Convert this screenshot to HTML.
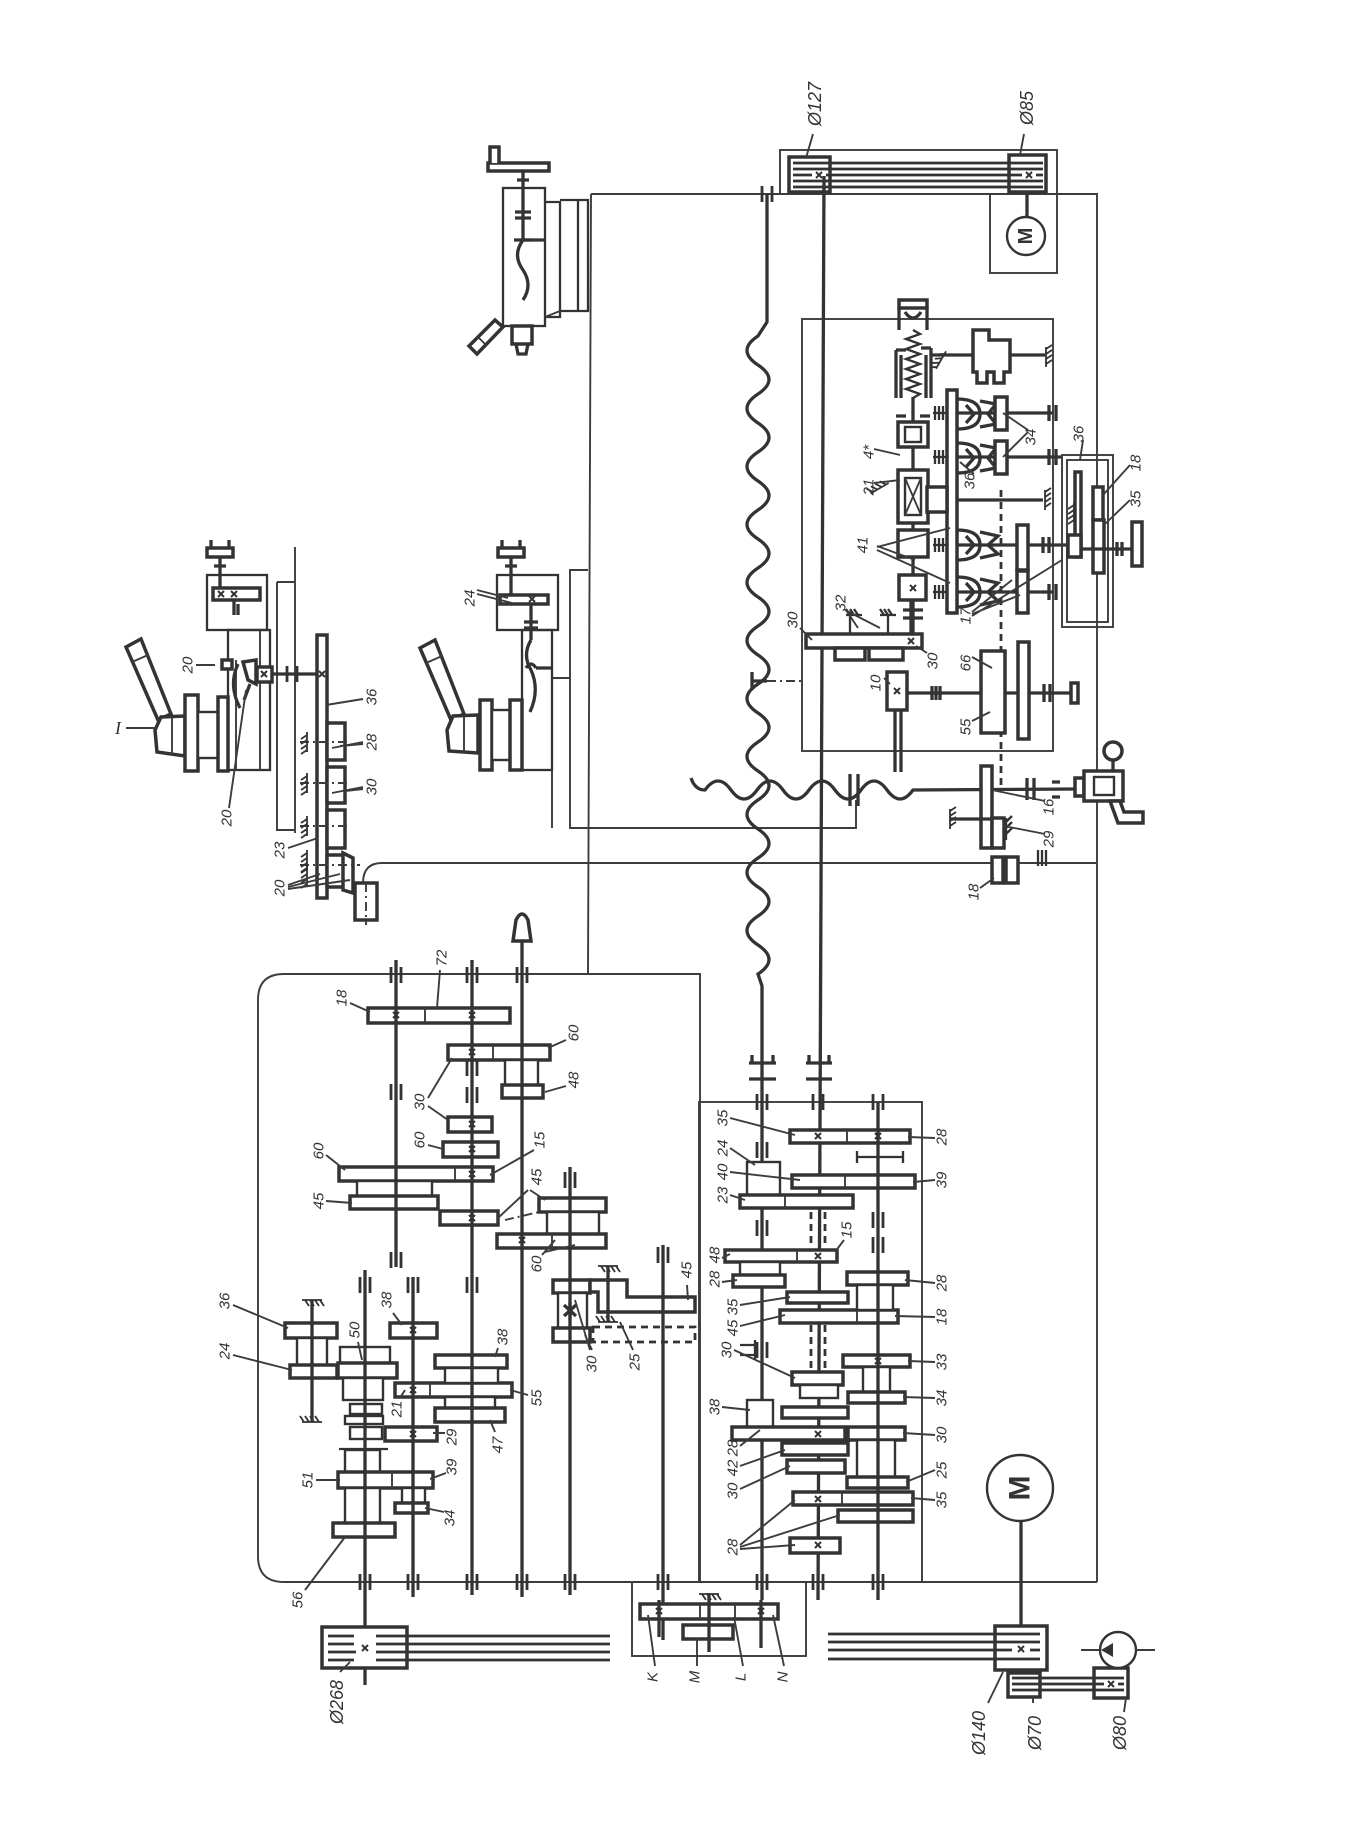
<!DOCTYPE html>
<html><head><meta charset="utf-8"><style>
html,body{margin:0;padding:0;background:#fff}
svg{display:block}
.k{fill:none;stroke:#333;stroke-width:3.3}
.g{fill:#fff;stroke:#333;stroke-width:3.5}
.h{fill:#fff;stroke:#333;stroke-width:2.4}
.t{fill:none;stroke:#3c3c3c;stroke-width:1.9}
.w{fill:none;stroke:#333;stroke-width:2.3}
.d{fill:none;stroke:#3c3c3c;stroke-width:1.9;stroke-dasharray:9 4 2 4}
.ds{fill:none;stroke:#333;stroke-width:2.8;stroke-dasharray:7 5}
text{font-family:"Liberation Sans Narrow","Liberation Sans",sans-serif;font-style:italic;fill:#333;text-anchor:middle;dominant-baseline:central}
.l{font-size:15px}
.L{font-size:18px}
</style></head><body>
<svg width="1371" height="1839" viewBox="0 0 1371 1839" xmlns="http://www.w3.org/2000/svg">
<defs>
<g id="b"><path d="M-5,-8V8M5,-8V8" stroke="#333" stroke-width="2.8" fill="none"/></g>
<g id="bh"><path d="M-8,-5H8M-8,5H8" stroke="#333" stroke-width="2.8" fill="none"/></g>
<g id="x"><path d="M-3,-3L3,3M3,-3L-3,3" stroke="#333" stroke-width="2" fill="none"/></g>
<g id="gr"><path d="M-10,0H10M-8,0l-4,-6M-3,0l-4,-6M2,0l-4,-6M7,0l-4,-6" stroke="#333" stroke-width="1.8" fill="none"/></g>
</defs>
<rect width="1371" height="1839" fill="#fff"/>

<!-- ============ FRAME ============ -->
<path class="t" d="M591,194 L588,974"/>
<path class="t" d="M591,194 H1097 V1582"/>
<path class="t" d="M284,974 H700 V1582 M258,1000 V1556 Q258,1582 284,1582 H1097 M258,1000 Q258,974 284,974"/>
<rect class="t" x="699" y="1102" width="223" height="480"/>
<rect class="t" x="632" y="1582" width="174" height="74"/>
<rect class="t" x="802" y="319" width="251" height="432"/>
<rect class="t" x="780" y="150" width="277" height="44"/>
<rect class="t" x="990" y="194" width="67" height="79"/>
<path class="t" d="M588,570 H570 V828 H856 V800"/>
<path class="t" d="M552,678 H570 M552,678 V828"/>
<path class="t" d="M363,883 Q363,863 382,863 H1097"/>

<!-- ============ TOP BELT ============ -->
<rect class="g" x="789" y="157" width="41" height="35"/>
<rect class="g" x="1009" y="155" width="37" height="37"/>
<path stroke="#333" stroke-width="2.8" fill="none" d="M793,163H1043M793,169H1043M793,175H812M826,175H1022M1036,175H1043M793,181H1043M793,187H1043"/>
<use href="#x" x="819" y="175"/>
<use href="#x" x="1029" y="175"/>
<circle class="h" cx="1026" cy="236" r="19"/>
<text x="1026" y="236" transform="rotate(-90 1026 236)" style="font-size:20px;font-weight:bold;font-style:normal;font-family:'Liberation Sans',sans-serif">M</text>
<path class="k" d="M1027,192 V217"/>
<text class="L" transform="translate(815,104) rotate(-90)">Ø127</text>
<text class="L" transform="translate(1027,108) rotate(-90)">Ø85</text>
<path class="t" d="M813,134 L806,158 M1024,134 L1020,155"/>

<!-- ============ LEAD SCREW / FEED SHAFT ============ -->
<path class="k" d="M767,194 L767,322 L758,336 Q736,350.5 758,365 T758,394 T758,423 T758,452 T758,481 T758,510 T758,539 T758,568 T758,597 T758,626 T758,655 T758,684 T758,713 T758,742 T758,771 T758,800 T758,829 T758,858 T758,887 T758,916 T758,945 T758,974 L762,986 L762,1600"/>
<path class="k" d="M824,176 L818,1600"/>
<use href="#b" x="767" y="194"/>
<path class="k" d="M749,1063 H776 M749,1079 H776 M752,1055 V1063 M773,1055 V1063"/>
<path class="k" d="M806,1063 H832 M806,1079 H832 M809,1055 V1063 M829,1055 V1063"/>
<!-- horizontal wavy screw -->
<path class="k" d="M691,778 Q695,790 705,790 Q718,772 731,790 T757,790 T783,790 T809,790 T835,790 T861,790 T887,790 T913,790 L1075,789"/>
<path class="k" d="M850,774 V806 M858,774 V806"/>
<path class="d" d="M767,681 H802"/>
<path class="k" d="M752,672 V690 M752,681 H767"/>

<!-- ============ APRON ============ -->
<rect class="g" x="899" y="300" width="28" height="8"/>
<path class="k" d="M899,308 V330 M927,308 V330 M905,312 Q913,324 921,312"/>
<path class="w" d="M913,330 l7,4 l-14,5 l14,5 l-14,5 l14,5 l-14,5 l14,5 l-14,5 l14,5 l-14,5 l14,5 l-14,5 l14,5 l-7,4"/>
<path class="k" d="M896,350 V398 M901,355 V398 M926,355 V398 M931,348 V398 M896,350 H906 M921,348 H931"/>
<use href="#gr" transform="translate(941,360) rotate(-60)"/>
<path class="k" d="M932,355 H1045"/>
<path class="g" d="M973,330 H989 V340 H1010 V372 H1004 V383 H994 V372 H987 V383 H977 V372 H973 Z"/>
<use href="#gr" transform="translate(1046,357) rotate(90)"/>
<path class="k" d="M913,397 V640"/>
<path class="k" d="M896,416 H906 M920,416 H930"/>
<rect class="g" x="898" y="422" width="30" height="25"/>
<rect class="h" x="905" y="427" width="16" height="15"/>
<rect class="g" x="898" y="470" width="30" height="53"/>
<rect class="h" x="905" y="478" width="16" height="37"/>
<path class="t" d="M905,478 L921,515 M921,478 L905,515"/>
<use href="#gr" transform="translate(880,488) rotate(-30)"/>
<rect class="g" x="898" y="530" width="30" height="27"/>
<rect class="g" x="899" y="575" width="27" height="25"/>
<use href="#x" x="913" y="588"/>
<path class="k" d="M903,610 H923 M903,618 H923"/>
<rect class="g" x="947" y="390" width="10" height="223"/>
<rect class="g" x="927" y="487" width="20" height="25"/>
<path class="k" d="M957,500 H1043"/>
<use href="#gr" transform="translate(1045,500) rotate(90)"/>
<path class="k" d="M957,413 H1053 M957,457 H1062 M957,545 H1068 M957,592 H1053"/>
<path class="w" d="M935,406 V420 M939,406 V420 M943,406 V420 M933,413 H947 M935,450 V464 M939,450 V464 M943,450 V464 M933,457 H947 M935,538 V552 M939,538 V552 M943,538 V552 M933,545 H947 M935,585 V599 M939,585 V599 M943,585 V599 M933,592 H947"/>
<path class="k" d="M957,399 Q980,399 980,414 Q980,429 957,429 M966,405 L974,414 L966,423"/>
<path class="k" d="M980,401 L996,404 L988,414 L996,424 L980,427"/>
<rect class="g" x="995" y="397" width="12" height="33"/>
<path class="k" d="M957,443 Q980,443 980,458 Q980,473 957,473 M966,449 L974,458 L966,467"/>
<path class="k" d="M980,445 L996,448 L988,458 L996,468 L980,471"/>
<rect class="g" x="995" y="441" width="12" height="33"/>
<path class="k" d="M957,530 Q980,530 980,545 Q980,560 957,560 M966,536 L974,545 L966,554"/>
<path class="k" d="M980,532 L998,536 L988,545 L998,554 L980,558"/>
<rect class="g" x="1017" y="525" width="11" height="45"/>
<path class="k" d="M957,577 Q980,577 980,592 Q980,607 957,607 M966,583 L974,592 L966,601"/>
<path class="k" d="M980,579 L998,583 L988,592 L998,601 L980,605"/>
<rect class="g" x="1017" y="571" width="11" height="42"/>
<path class="k" d="M1049,405 V421 M1056,405 V421 M1049,449 V465 M1056,449 V465 M1049,584 V600 M1056,584 V600 M1043,537 V553 M1049,537 V553"/>
<path class="ds" d="M1001,490 V786"/>
<!-- small side box -->
<rect class="t" x="1062" y="455" width="51" height="172"/>
<rect class="t" x="1067" y="460" width="41" height="162"/>
<rect class="g" x="1075" y="472" width="6" height="85"/>
<rect class="g" x="1093" y="487" width="10" height="33"/>
<rect class="g" x="1093" y="520" width="11" height="53"/>
<rect class="g" x="1068" y="535" width="13" height="22"/>
<use href="#gr" transform="translate(1074,512) rotate(-90)"/>
<path class="k" d="M1081,549 H1132"/>
<rect class="g" x="1132" y="522" width="10" height="44"/>
<path class="k" d="M1117,542 V556 M1122,542 V556"/>
<!-- lower apron -->
<rect class="g" x="806" y="634" width="116" height="14"/>
<rect class="g" x="835" y="648" width="30" height="12"/>
<rect class="g" x="869" y="648" width="34" height="12"/>
<use href="#x" x="911" y="641"/>
<path class="w" d="M850,615 l-4,-6 M854,615 l-4,-6 M858,615 l-4,-6 M846,615 H862 M884,615 l-4,-6 M888,615 l-4,-6 M892,615 l-4,-6 M880,615 H896 M850,615 V634 M888,615 V634"/>
<path class="k" d="M911,600 V634"/>
<rect class="g" x="887" y="672" width="20" height="38"/>
<use href="#x" x="897" y="691"/>
<path class="k" d="M895,710 V772 M901,710 V772"/>
<path class="k" d="M907,693 H1071"/>
<rect class="g" x="1071" y="683" width="7" height="20"/>
<path class="k" d="M1044,684 V702 M1050,684 V702 M932,686 V700 M936,686 V700 M940,686 V700"/>
<rect class="g" x="981" y="651" width="24" height="82"/>
<rect class="g" x="1018" y="642" width="11" height="97"/>
<!-- below apron -->
<rect class="g" x="981" y="766" width="11" height="82"/>
<path class="k" d="M1027,778 V800 M1034,778 V800 M1052,782 H1060 M1052,797 H1060"/>
<rect class="g" x="1075" y="778" width="9" height="18"/>
<rect class="g" x="1084" y="771" width="39" height="30"/>
<rect class="h" x="1094" y="777" width="20" height="18"/>
<circle class="g" cx="1113" cy="751" r="9"/>
<path class="k" d="M1113,760 V771"/>
<path class="g" d="M1110,801 L1120,801 L1124,812 L1143,812 L1143,823 L1118,823 Z"/>
<path class="k" d="M950,819 H992"/>
<use href="#gr" transform="translate(950,819) rotate(90)"/>
<rect class="g" x="992" y="818" width="12" height="30"/>
<path class="w" d="M1006,822 l6,-6 M1006,828 l6,-6 M1006,834 l6,-6 M1006,818 V840"/>
<rect class="g" x="992" y="857" width="11" height="26"/>
<rect class="g" x="1006" y="857" width="12" height="26"/>
<path class="w" d="M1038,850 V866 M1042,850 V866 M1046,850 V866"/>
<!-- apron labels -->
<text class="l" transform="translate(793,620) rotate(-90)">30</text>
<text class="l" transform="translate(841,603) rotate(-90)">32</text>
<text class="l" transform="translate(933,661) rotate(-90)">30</text>
<text class="l" transform="translate(876,683) rotate(-90)">10</text>
<text class="l" transform="translate(966,663) rotate(-90)">66</text>
<text class="l" transform="translate(966,727) rotate(-90)">55</text>
<text class="l" transform="translate(863,545) rotate(-90)">41</text>
<text class="l" transform="translate(966,616) rotate(-90)">17</text>
<text class="l" transform="translate(869,487) rotate(-90)">21</text>
<text class="l" transform="translate(869,452) rotate(-90)">4*</text>
<text class="l" transform="translate(970,481) rotate(-90)">36</text>
<text class="l" transform="translate(1031,437) rotate(-90)">34</text>
<text class="l" transform="translate(1079,434) rotate(-90)">36</text>
<text class="l" transform="translate(1136,463) rotate(-90)">18</text>
<text class="l" transform="translate(1136,499) rotate(-90)">35</text>
<text class="l" transform="translate(1049,807) rotate(-90)">16</text>
<text class="l" transform="translate(1049,839) rotate(-90)">29</text>
<text class="l" transform="translate(974,892) rotate(-90)">18</text>
<path class="t" d="M800,628 L812,640 M846,610 L858,628 M845,610 L880,628 M927,653 L916,646 M884,678 L890,684 M972,657 L992,668 M972,721 L990,712 M877,547 L950,528 M877,550 L950,583 M877,546 L915,560 M972,612 L1012,580 M972,614 L1020,595 M972,616 L1062,560 M874,483 L900,480 M874,449 L900,455 M974,474 L960,462 M1028,430 L1003,413 M1028,432 L1003,457 M1083,440 L1080,460 M1130,465 L1103,495 M1130,500 L1104,525 M1045,801 L992,790 M1045,834 L1004,826 M980,888 L994,878"/>

<!-- ============ UPPER TOOL (drill head) ============ -->
<rect class="g" x="488" y="163" width="61" height="8"/>
<path class="g" d="M490,163 V147 H499 V163"/>
<rect class="w" x="503" y="188" width="42" height="138"/>
<path class="k" d="M523,171 V240"/>
<path class="k" d="M517,180 H529 M515,212 H531 M515,218 H531 M514,240 H532 M523,240 Q512,255 523,270 Q533,285 523,300"/>
<path class="k" d="M523,240 H545"/>
<path class="w" d="M545,202 H560 V317 H545 M560,200 H588 V311 H560 M578,200 V311"/>
<path class="t" d="M545,317 L560,311"/>
<rect class="g" x="512" y="326" width="20" height="18"/>
<path class="k" d="M516,344 L518,354 H526 L528,344"/>
<path class="g" d="M469,346 L495,320 L503,327 L477,354 Z"/>
<path class="t" d="M478,337 L486,345"/>

<!-- ============ CARRIAGE 1 ============ -->
<path class="g" d="M126,647 L141,639 L171,714 L158,720 Z"/>
<path class="t" d="M132,662 L148,655"/>
<path class="g" d="M185,716 L161,717 L155,730 L157,752 L185,756 Z"/>
<path class="t" d="M172,717 V755"/>
<rect class="g" x="185" y="695" width="13" height="76"/>
<rect class="h" x="198" y="712" width="20" height="46"/>
<rect class="g" x="218" y="697" width="10" height="74"/>
<rect class="w" x="228" y="630" width="42" height="140"/>
<path class="t" d="M236,660 V770 M260,630 V770"/>
<rect class="w" x="207" y="575" width="60" height="55"/>
<rect class="g" x="213" y="588" width="47" height="12"/>
<use href="#x" x="221" y="594"/><use href="#x" x="234" y="594"/>
<path class="k" d="M234,600 V615 M238,604 V615"/>
<rect class="g" x="207" y="548" width="26" height="9"/>
<path class="k" d="M211,548 V540 M229,548 V540 M220,557 V588 M214,566 H226"/>
<path class="t" d="M277,582 V830 H295 M277,582 H295 M295,547 V833"/>
<rect class="g" x="222" y="660" width="10" height="9"/>
<path class="g" d="M243,662 L256,660 L256,684 L248,680 Z"/>
<rect class="g" x="257" y="667" width="15" height="15"/>
<use href="#x" x="264" y="674"/>
<path class="k" d="M238,664 Q228,685 240,708 M250,684 L244,700"/>
<path class="k" d="M272,674 H322"/>
<use href="#b" x="292" y="674"/>
<rect class="g" x="317" y="635" width="10" height="263"/>
<use href="#x" x="322" y="674"/>
<rect class="g" x="327" y="723" width="18" height="37"/>
<rect class="g" x="327" y="767" width="18" height="36"/>
<rect class="g" x="327" y="810" width="18" height="38"/>
<rect class="g" x="327" y="855" width="18" height="32"/>
<path class="g" d="M343,853 L353,858 L353,893 L343,890 Z"/>
<path class="d" d="M300,742 H350 M300,783 H350 M300,826 H350 M300,865 H360"/>
<use href="#gr" transform="translate(307,742) rotate(-90)"/>
<use href="#gr" transform="translate(307,783) rotate(-90)"/>
<use href="#gr" transform="translate(307,826) rotate(-90)"/>
<use href="#gr" transform="translate(307,860) rotate(-90)"/>
<use href="#gr" transform="translate(307,876) rotate(-90)"/>
<rect class="g" x="355" y="883" width="22" height="37"/>
<path class="d" d="M366,883 V925"/>
<text x="118" y="728" style="font-size:18px;font-family:'Liberation Serif',serif">I</text>
<text class="l" transform="translate(188,665) rotate(-90)">20</text>
<text class="l" transform="translate(227,818) rotate(-90)">20</text>
<text class="l" transform="translate(372,697) rotate(-90)">36</text>
<text class="l" transform="translate(372,742) rotate(-90)">28</text>
<text class="l" transform="translate(372,787) rotate(-90)">30</text>
<text class="l" transform="translate(280,850) rotate(-90)">23</text>
<text class="l" transform="translate(280,888) rotate(-90)">20</text>
<path class="t" d="M126,728 H156 M196,665 H215 M229,808 L246,690 M363,699 L326,705 M363,742 L332,748 M363,744 L340,746 M363,787 L332,793 M363,789 L345,791 M288,848 L318,838 M288,885 L320,874 M288,887 L340,874 M288,889 L350,880"/>

<!-- ============ CARRIAGE 2 ============ -->
<path class="g" d="M420,648 L435,640 L464,714 L451,720 Z"/>
<path class="t" d="M426,663 L442,656"/>
<path class="g" d="M478,715 L453,716 L447,730 L449,751 L478,753 Z"/>
<path class="t" d="M464,716 V752"/>
<rect class="g" x="480" y="700" width="12" height="70"/>
<rect class="h" x="492" y="710" width="18" height="50"/>
<rect class="g" x="510" y="700" width="12" height="70"/>
<rect class="w" x="522" y="630" width="30" height="140"/>
<rect class="w" x="497" y="575" width="61" height="55"/>
<rect class="g" x="500" y="595" width="48" height="9"/>
<use href="#x" x="532" y="599"/>
<rect class="g" x="498" y="548" width="26" height="9"/>
<path class="k" d="M502,548 V540 M520,548 V540 M511,557 V595 M505,566 H517"/>
<path class="k" d="M531,604 V640 M524,622 H538 M524,628 H538 M531,640 Q522,655 531,670 Q540,690 530,712 M526,668 Q531,660 536,668 M536,668 H552"/>
<text class="l" transform="translate(470,598) rotate(-90)">24</text>
<path class="t" d="M477,590 L508,598 M477,594 L512,603"/>

<!-- ============ HEADSTOCK ============ -->
<path class="g" d="M513,941 L516,920 Q522,908 528,920 L531,941 Z"/>
<!-- gears -->
<rect class="g" x="368" y="1008" width="142" height="15"/>
<path class="t" d="M425,1008 V1023"/>
<rect class="g" x="448" y="1045" width="102" height="15"/>
<path class="t" d="M493,1045 V1060"/>
<rect class="h" x="505" y="1060" width="33" height="26"/>
<rect class="g" x="502" y="1085" width="41" height="13"/>
<rect class="g" x="448" y="1117" width="44" height="15"/>
<rect class="g" x="443" y="1142" width="55" height="15"/>
<rect class="g" x="339" y="1167" width="154" height="14"/>
<path class="t" d="M455,1167 V1181"/>
<rect class="h" x="357" y="1181" width="75" height="15"/>
<rect class="g" x="350" y="1196" width="88" height="13"/>
<rect class="g" x="440" y="1211" width="58" height="14"/>
<rect class="g" x="539" y="1198" width="67" height="14"/>
<rect class="h" x="547" y="1212" width="52" height="22"/>
<rect class="g" x="497" y="1234" width="109" height="14"/>
<path class="t" d="M552,1234 V1248"/>
<path class="d" d="M505,1220 L539,1212"/>
<!-- tumbler -->
<rect class="g" x="553" y="1280" width="37" height="13"/>
<rect class="h" x="558" y="1293" width="29" height="35"/>
<rect class="g" x="553" y="1328" width="37" height="14"/>
<path class="k" d="M564,1305 L576,1316 M576,1305 L564,1316 M570,1302 V1320"/>
<path class="g" d="M590,1280 H627 V1297 H695 V1312 H598 V1292 H590 Z"/>
<rect class="ds" x="593" y="1327" width="102" height="15"/>
<use href="#gr" transform="translate(608,1266) rotate(180)"/>
<use href="#gr" transform="translate(608,1322)"/>
<path class="k" d="M608,1266 V1322"/>
<!-- lower cluster -->
<rect class="g" x="285" y="1323" width="52" height="15"/>
<rect class="h" x="297" y="1338" width="30" height="27"/>
<rect class="g" x="290" y="1365" width="47" height="13"/>
<path class="k" d="M312,1300 V1422"/>
<use href="#gr" transform="translate(312,1300) rotate(180)"/>
<use href="#gr" transform="translate(312,1422)"/>
<rect class="h" x="340" y="1347" width="50" height="16"/>
<rect class="g" x="338" y="1363" width="59" height="15"/>
<rect class="h" x="343" y="1378" width="40" height="22"/>
<rect class="h" x="350" y="1404" width="32" height="10"/>
<rect class="h" x="345" y="1416" width="38" height="8"/>
<rect class="h" x="350" y="1427" width="32" height="12"/>
<path class="w" d="M339,1449 H388"/>
<rect class="h" x="345" y="1450" width="35" height="22"/>
<rect class="g" x="338" y="1472" width="95" height="16"/>
<path class="t" d="M392,1472 V1488"/>
<rect class="h" x="345" y="1488" width="35" height="35"/>
<rect class="g" x="333" y="1523" width="62" height="14"/>
<rect class="g" x="390" y="1323" width="47" height="15"/>
<rect class="g" x="395" y="1383" width="117" height="14"/>
<path class="t" d="M430,1383 V1397"/>
<rect class="g" x="435" y="1355" width="72" height="13"/>
<rect class="h" x="445" y="1368" width="53" height="15"/>
<rect class="h" x="445" y="1397" width="50" height="11"/>
<rect class="g" x="435" y="1408" width="70" height="14"/>
<rect class="g" x="385" y="1427" width="52" height="14"/>
<rect class="h" x="402" y="1488" width="23" height="15"/>
<rect class="g" x="395" y="1503" width="33" height="10"/>
<!-- shafts -->
<path class="k" d="M396,960 V1267 M472,960 V1595 M522,941 V1597 M570,1167 V1595 M663,1245 V1640 M365,1270 V1685 M413,1277 V1597"/>
<use href="#x" x="396" y="1015"/><use href="#x" x="472" y="1015"/>
<use href="#x" x="472" y="1052"/><use href="#x" x="472" y="1124"/>
<use href="#x" x="472" y="1149"/><use href="#x" x="472" y="1174"/>
<use href="#x" x="472" y="1218"/><use href="#x" x="522" y="1240"/>
<use href="#x" x="413" y="1330"/><use href="#x" x="413" y="1390"/>
<use href="#x" x="413" y="1434"/>
<use href="#b" x="396" y="975"/><use href="#b" x="472" y="975"/><use href="#b" x="522" y="975"/>
<use href="#b" x="396" y="1092"/><use href="#b" x="396" y="1260"/><use href="#b" x="472" y="1068"/>
<use href="#b" x="472" y="1095"/><use href="#b" x="472" y="1285"/><use href="#b" x="413" y="1285"/>
<use href="#b" x="365" y="1285"/><use href="#b" x="663" y="1255"/><use href="#b" x="570" y="1180"/>
<use href="#b" x="365" y="1582"/><use href="#b" x="413" y="1582"/><use href="#b" x="472" y="1582"/>
<use href="#b" x="522" y="1582"/><use href="#b" x="570" y="1582"/><use href="#b" x="663" y="1582"/>
<!-- headstock labels -->
<text class="l" transform="translate(342,998) rotate(-90)">18</text>
<text class="l" transform="translate(442,958) rotate(-90)">72</text>
<text class="l" transform="translate(574,1033) rotate(-90)">60</text>
<text class="l" transform="translate(574,1080) rotate(-90)">48</text>
<text class="l" transform="translate(420,1102) rotate(-90)">30</text>
<text class="l" transform="translate(420,1140) rotate(-90)">60</text>
<text class="l" transform="translate(540,1140) rotate(-90)">15</text>
<text class="l" transform="translate(319,1151) rotate(-90)">60</text>
<text class="l" transform="translate(319,1201) rotate(-90)">45</text>
<text class="l" transform="translate(537,1177) rotate(-90)">45</text>
<text class="l" transform="translate(537,1264) rotate(-90)">60</text>
<text class="l" transform="translate(225,1301) rotate(-90)">36</text>
<text class="l" transform="translate(225,1351) rotate(-90)">24</text>
<text class="l" transform="translate(355,1330) rotate(-90)">50</text>
<text class="l" transform="translate(387,1300) rotate(-90)">38</text>
<text class="l" transform="translate(503,1337) rotate(-90)">38</text>
<text class="l" transform="translate(537,1398) rotate(-90)">55</text>
<text class="l" transform="translate(397,1409) rotate(-90)">21</text>
<text class="l" transform="translate(452,1437) rotate(-90)">29</text>
<text class="l" transform="translate(498,1445) rotate(-90)">47</text>
<text class="l" transform="translate(452,1467) rotate(-90)">39</text>
<text class="l" transform="translate(308,1480) rotate(-90)">51</text>
<text class="l" transform="translate(450,1518) rotate(-90)">34</text>
<text class="l" transform="translate(298,1600) rotate(-90)">56</text>
<text class="l" transform="translate(592,1364) rotate(-90)">30</text>
<text class="l" transform="translate(635,1362) rotate(-90)">25</text>
<text class="l" transform="translate(687,1270) rotate(-90)">45</text>
<path class="t" d="M350,1003 L370,1012 M440,970 L437,1008 M566,1040 L548,1048 M566,1086 L545,1092 M428,1098 L452,1058 M428,1106 L448,1120 M428,1145 L443,1149 M534,1150 L490,1175 M326,1155 L345,1170 M326,1201 L352,1203 M528,1190 L498,1218 M530,1190 L545,1200 M545,1252 L575,1245 M542,1255 L555,1240 M233,1305 L288,1328 M233,1355 L292,1370 M358,1342 L362,1360 M393,1313 L402,1325 M498,1348 L495,1357 M528,1395 L510,1390 M400,1398 L405,1390 M445,1433 L433,1433 M495,1432 L490,1420 M446,1473 L430,1479 M316,1480 L340,1480 M444,1512 L425,1508 M305,1590 L345,1537 M590,1350 L575,1300 M592,1350 L585,1335 M633,1350 L620,1322 M687,1285 L688,1300"/>

<!-- ============ FEED BOX ============ -->
<rect class="g" x="790" y="1130" width="120" height="13"/>
<path class="t" d="M847,1130 V1143"/>
<path class="w" d="M857,1157 H903 M857,1151 V1163 M903,1151 V1163"/>
<rect class="g" x="792" y="1175" width="123" height="13"/>
<path class="t" d="M845,1175 V1188"/>
<rect class="h" x="747" y="1162" width="33" height="33"/>
<rect class="g" x="740" y="1195" width="113" height="13"/>
<path class="t" d="M785,1195 V1208"/>
<rect class="g" x="725" y="1250" width="112" height="12"/>
<path class="t" d="M797,1250 V1262"/>
<rect class="h" x="740" y="1262" width="40" height="13"/>
<rect class="g" x="733" y="1275" width="52" height="12"/>
<rect class="g" x="787" y="1292" width="61" height="11"/>
<rect class="g" x="780" y="1310" width="118" height="13"/>
<path class="t" d="M857,1310 V1323"/>
<rect class="g" x="847" y="1272" width="61" height="13"/>
<rect class="h" x="857" y="1285" width="36" height="25"/>
<rect class="g" x="843" y="1355" width="67" height="12"/>
<rect class="h" x="863" y="1367" width="27" height="25"/>
<rect class="g" x="848" y="1392" width="57" height="11"/>
<rect class="g" x="848" y="1427" width="57" height="13"/>
<rect class="h" x="857" y="1440" width="38" height="37"/>
<rect class="g" x="847" y="1477" width="61" height="11"/>
<rect class="g" x="793" y="1492" width="120" height="13"/>
<path class="t" d="M842,1492 V1505"/>
<rect class="g" x="838" y="1510" width="75" height="12"/>
<rect class="g" x="790" y="1538" width="50" height="15"/>
<rect class="g" x="792" y="1372" width="51" height="13"/>
<rect class="h" x="800" y="1385" width="38" height="13"/>
<rect class="g" x="782" y="1407" width="66" height="11"/>
<rect class="h" x="747" y="1400" width="26" height="27"/>
<rect class="g" x="732" y="1427" width="113" height="13"/>
<rect class="g" x="782" y="1443" width="66" height="12"/>
<rect class="g" x="787" y="1460" width="58" height="13"/>
<path class="k" d="M878,1102 V1600"/>
<path class="ds" d="M811,1212 V1245 M825,1212 V1245 M811,1325 V1370 M825,1325 V1370"/>
<use href="#x" x="818" y="1136"/><use href="#x" x="878" y="1136"/>
<use href="#x" x="818" y="1256"/><use href="#x" x="878" y="1361"/>
<use href="#x" x="818" y="1434"/><use href="#x" x="818" y="1499"/>
<use href="#x" x="818" y="1545"/>
<use href="#b" x="762" y="1102"/><use href="#b" x="818" y="1102"/><use href="#b" x="878" y="1102"/>
<use href="#b" x="762" y="1582"/><use href="#b" x="818" y="1582"/><use href="#b" x="878" y="1582"/>
<use href="#b" x="762" y="1150"/><use href="#b" x="762" y="1228"/><use href="#b" x="762" y="1350"/>
<use href="#b" x="878" y="1220"/><use href="#b" x="878" y="1245"/>
<path class="w" d="M740,1355 H755 M740,1345 H755 M755,1340 V1360"/>
<!-- feed box labels -->
<text class="l" transform="translate(723,1118) rotate(-90)">35</text>
<text class="l" transform="translate(723,1148) rotate(-90)">24</text>
<text class="l" transform="translate(723,1172) rotate(-90)">40</text>
<text class="l" transform="translate(723,1195) rotate(-90)">23</text>
<text class="l" transform="translate(715,1255) rotate(-90)">48</text>
<text class="l" transform="translate(715,1279) rotate(-90)">28</text>
<text class="l" transform="translate(733,1307) rotate(-90)">35</text>
<text class="l" transform="translate(733,1328) rotate(-90)">45</text>
<text class="l" transform="translate(727,1350) rotate(-90)">30</text>
<text class="l" transform="translate(715,1407) rotate(-90)">38</text>
<text class="l" transform="translate(733,1448) rotate(-90)">28</text>
<text class="l" transform="translate(733,1468) rotate(-90)">42</text>
<text class="l" transform="translate(733,1491) rotate(-90)">30</text>
<text class="l" transform="translate(733,1547) rotate(-90)">28</text>
<text class="l" transform="translate(847,1230) rotate(-90)">15</text>
<text class="l" transform="translate(942,1137) rotate(-90)">28</text>
<text class="l" transform="translate(942,1180) rotate(-90)">39</text>
<text class="l" transform="translate(942,1283) rotate(-90)">28</text>
<text class="l" transform="translate(942,1317) rotate(-90)">18</text>
<text class="l" transform="translate(942,1362) rotate(-90)">33</text>
<text class="l" transform="translate(942,1398) rotate(-90)">34</text>
<text class="l" transform="translate(942,1435) rotate(-90)">30</text>
<text class="l" transform="translate(942,1470) rotate(-90)">25</text>
<text class="l" transform="translate(942,1500) rotate(-90)">35</text>
<path class="t" d="M730,1118 L795,1135 M730,1148 L755,1165 M730,1172 L800,1180 M730,1195 L745,1200 M722,1258 L730,1254 M722,1282 L737,1280 M740,1305 L790,1297 M740,1326 L785,1315 M734,1350 L795,1378 M722,1407 L750,1410 M740,1446 L760,1430 M740,1466 L785,1450 M740,1489 L790,1466 M740,1545 L795,1500 M740,1547 L840,1515 M740,1549 L795,1545 M844,1240 L835,1252 M935,1138 L908,1137 M935,1180 L913,1182 M935,1283 L905,1280 M935,1317 L895,1316 M935,1362 L908,1361 M935,1398 L903,1397 M935,1435 L903,1433 M935,1470 L906,1482 M935,1500 L911,1498"/>

<!-- ============ K-box ============ -->
<rect class="g" x="640" y="1604" width="138" height="15"/>
<path class="t" d="M700,1604 V1619 M735,1604 V1619"/>
<rect class="g" x="683" y="1625" width="50" height="14"/>
<path class="k" d="M709,1593 V1652 M659,1600 V1637 M761,1600 V1648"/>
<use href="#gr" transform="translate(709,1594) rotate(180)"/>
<use href="#x" x="659" y="1611"/><use href="#x" x="761" y="1611"/>
<text class="l" transform="translate(653,1677) rotate(-90)">K</text>
<text class="l" transform="translate(695,1677) rotate(-90)">M</text>
<text class="l" transform="translate(741,1677) rotate(-90)">L</text>
<text class="l" transform="translate(783,1677) rotate(-90)">N</text>
<path class="t" d="M655,1666 L648,1615 M697,1666 L697,1638 M743,1666 L734,1617 M784,1666 L773,1615"/>

<!-- ============ BOTTOM PULLEYS ============ -->
<rect class="g" x="322" y="1627" width="85" height="41"/>
<path stroke="#333" stroke-width="2.8" fill="none" d="M328,1636H354M376,1636H610M328,1644H354M376,1644H610M328,1652H356M376,1652H610M328,1660H354M376,1660H610"/>
<use href="#x" x="365" y="1648"/>
<text class="L" transform="translate(337,1702) rotate(-90)">Ø268</text>
<path class="t" d="M340,1672 L350,1662"/>
<circle class="h" cx="1020" cy="1488" r="33"/>
<text x="1020" y="1488" transform="rotate(-90 1020 1488)" style="font-size:30px;font-weight:bold;font-style:normal;font-family:'Liberation Sans',sans-serif">M</text>
<path class="k" d="M1021,1521 V1626"/>
<rect class="g" x="995" y="1626" width="52" height="44"/>
<path stroke="#333" stroke-width="2.8" fill="none" d="M828,1634H1040M828,1642H1040M828,1650H1012M1030,1650H1040M828,1659H1040"/>
<use href="#x" x="1021" y="1649"/>
<rect class="g" x="1008" y="1673" width="32" height="24"/>
<rect class="g" x="1094" y="1668" width="34" height="30"/>
<path stroke="#333" stroke-width="2.8" fill="none" d="M1012,1678H1124M1012,1684H1104M1118,1684H1124M1012,1690H1124"/>
<use href="#x" x="1111" y="1684"/>
<circle class="h" cx="1118" cy="1650" r="18"/>
<path d="M1101,1650 L1113,1643 L1113,1657 Z" fill="#333"/>
<path class="t" d="M1081,1650 H1100 M1136,1650 H1155"/>
<text class="L" transform="translate(979,1733) rotate(-90)">Ø140</text>
<text class="L" transform="translate(1035,1733) rotate(-90)">Ø70</text>
<text class="L" transform="translate(1120,1733) rotate(-90)">Ø80</text>
<path class="t" d="M988,1703 L1003,1672 M1033,1703 L1033,1696 M1124,1712 L1126,1698"/>
</svg>
</body></html>
